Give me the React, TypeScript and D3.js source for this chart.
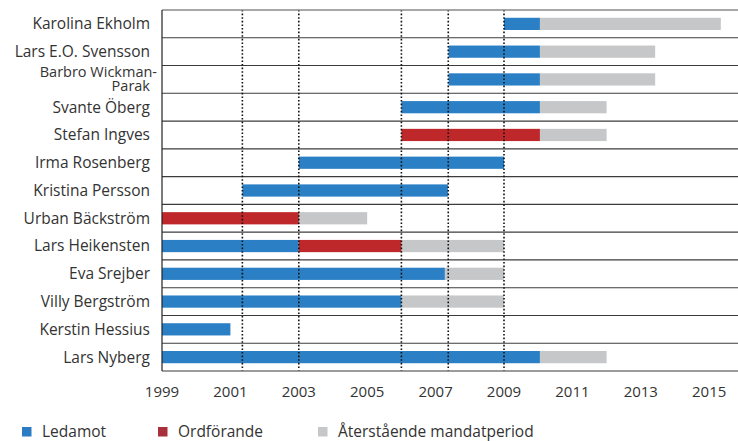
import React, { useEffect, useRef } from 'react';
import * as d3 from 'd3';

// Board members, top to bottom
const members = [
  'Karolina Ekholm',
  'Lars E.O. Svensson',
  'Barbro Wickman-Parak',
  'Svante Öberg',
  'Stefan Ingves',
  'Irma Rosenberg',
  'Kristina Persson',
  'Urban Bäckström',
  'Lars Heikensten',
  'Eva Srejber',
  'Villy Bergström',
  'Kerstin Hessius',
  'Lars Nyberg',
];

// [member, from, to] in decimal years
const ledamot: [string, number, number][] = [
  ['Karolina Ekholm', 2009.0, 2010.05],
  ['Lars E.O. Svensson', 2007.38, 2010.05],
  ['Barbro Wickman-Parak', 2007.38, 2010.05],
  ['Svante Öberg', 2006.0, 2010.05],
  ['Irma Rosenberg', 2003.0, 2009.0],
  ['Kristina Persson', 2001.35, 2007.36],
  ['Lars Heikensten', 1999, 2003.0],
  ['Eva Srejber', 1999, 2007.27],
  ['Villy Bergström', 1999, 2006.0],
  ['Kerstin Hessius', 1999, 2001.0],
  ['Lars Nyberg', 1999, 2010.05],
];

const ordforande: [string, number, number][] = [
  ['Stefan Ingves', 2006.0, 2010.05],
  ['Urban Bäckström', 1999, 2003.0],
  ['Lars Heikensten', 2003.0, 2006.0],
];

const aterstaende: [string, number, number][] = [
  ['Karolina Ekholm', 2010.05, 2015.34],
  ['Lars E.O. Svensson', 2010.05, 2013.42],
  ['Barbro Wickman-Parak', 2010.05, 2013.42],
  ['Svante Öberg', 2010.05, 2012.0],
  ['Stefan Ingves', 2010.05, 2012.0],
  ['Urban Bäckström', 2003.0, 2005.0],
  ['Lars Heikensten', 2006.0, 2009.0],
  ['Eva Srejber', 2007.27, 2009.0],
  ['Villy Bergström', 2006.0, 2009.0],
  ['Lars Nyberg', 2010.05, 2012.0],
];

// dotted reference lines (changes on the board)
const markers = [2001.35, 2003.0, 2006.0, 2007.37, 2009.0];

const tickYears = [1999, 2001, 2003, 2005, 2007, 2009, 2011, 2013, 2015];

const legendItems = [
  { label: 'Ledamot', color: '#2b7cc1' },
  { label: 'Ordförande', color: '#a8303a' },
  { label: 'Återstående mandatperiod', color: '#c6c7c9' },
];

const width = 738;
const height = 441;
const font = '"Open Sans", "DejaVu Sans", sans-serif';

const App: React.FC = () => {
  const svgRef = useRef<SVGSVGElement>(null);

  useEffect(() => {
    const svg = d3.select(svgRef.current);
    svg.selectAll('*').remove();

    const left = 162;
    const top = 10;
    const bottom = 371;

    const x = d3.scaleLinear().domain([1999, 2015]).range([left, left + 16 * 34.2]);
    const y = d3.scaleBand<string>().domain(members).range([top, bottom]).paddingInner(0);
    const barH = y.bandwidth() * 0.44;

    // row separators
    const rows = svg.append('g');
    rows.selectAll('line')
      .data(d3.range(1, members.length))
      .enter()
      .append('line')
      .attr('x1', left)
      .attr('x2', width)
      .attr('y1', i => top + i * y.bandwidth())
      .attr('y2', i => top + i * y.bandwidth())
      .attr('stroke', '#3c3c3c')
      .attr('stroke-width', 1.1);

    // bars
    const drawBars = (data: [string, number, number][], color: string) => {
      svg.append('g')
        .selectAll('rect')
        .data(data)
        .enter()
        .append('rect')
        .attr('x', d => x(d[1]))
        .attr('width', d => x(d[2]) - x(d[1]))
        .attr('y', d => (y(d[0]) as number) + (y.bandwidth() - barH) / 2)
        .attr('height', barH)
        .attr('fill', color);
    };
    drawBars(aterstaende, '#c6c7c9');
    drawBars(ledamot, '#2b80c5');
    drawBars(ordforande, '#bf282a');

    // dotted markers
    svg.append('g')
      .selectAll('line')
      .data(markers)
      .enter()
      .append('line')
      .attr('x1', d => x(d))
      .attr('x2', d => x(d))
      .attr('y1', top)
      .attr('y2', bottom)
      .attr('stroke', '#111')
      .attr('stroke-width', 1.6)
      .attr('stroke-dasharray', '1.6,2');

    // frame
    svg.append('line')
      .attr('x1', left).attr('x2', width)
      .attr('y1', top).attr('y2', top)
      .attr('stroke', '#8a8a8a').attr('stroke-width', 1.5);
    svg.append('line')
      .attr('x1', left).attr('x2', width)
      .attr('y1', bottom).attr('y2', bottom)
      .attr('stroke', '#7a7a7a').attr('stroke-width', 1.5);
    svg.append('line')
      .attr('x1', left).attr('x2', left)
      .attr('y1', top).attr('y2', bottom)
      .attr('stroke', '#222').attr('stroke-width', 1.2);

    // member labels
    const labels = svg.append('g')
      .style('font-family', font)
      .style('font-size', '15.5px')
      .attr('fill', '#333');
    members.forEach(m => {
      const cy = (y(m) as number) + y.bandwidth() / 2;
      if (m === 'Barbro Wickman-Parak') {
        // wrapped over two lines as in the original
        labels.append('text').attr('x', 157).attr('y', cy - 2).attr('text-anchor', 'end')
          .style('font-size', '14.5px').text('Barbro Wickman-');
        labels.append('text').attr('x', 150).attr('y', cy + 11.5).attr('text-anchor', 'end')
          .style('font-size', '14.5px').text('Parak');
      } else {
        labels.append('text')
          .attr('x', 150)
          .attr('y', cy)
          .attr('dy', '0.35em')
          .attr('text-anchor', 'end')
          .text(m);
      }
    });

    // x axis labels
    svg.append('g')
      .style('font-family', font)
      .style('font-size', '15px')
      .attr('fill', '#333')
      .selectAll('text')
      .data(tickYears)
      .enter()
      .append('text')
      .attr('x', d => x(d))
      .attr('y', 397)
      .attr('text-anchor', 'middle')
      .text(d => d);

    // legend
    const legendX = [22, 158, 318];
    const lg = svg.append('g')
      .style('font-family', font)
      .style('font-size', '15.5px');
    legendItems.forEach((item, i) => {
      lg.append('rect')
        .attr('x', legendX[i])
        .attr('y', 427)
        .attr('width', 9.5)
        .attr('height', 9.5)
        .attr('fill', item.color);
      lg.append('text')
        .attr('x', legendX[i] + 20)
        .attr('y', 436.5)
        .attr('fill', '#333')
        .text(item.label);
    });
  }, []);

  return (
    <svg
      ref={svgRef}
      width={width}
      height={height}
      style={{ position: 'absolute', left: 0, top: 0, background: '#fff' }}
    />
  );
};

export default App;
